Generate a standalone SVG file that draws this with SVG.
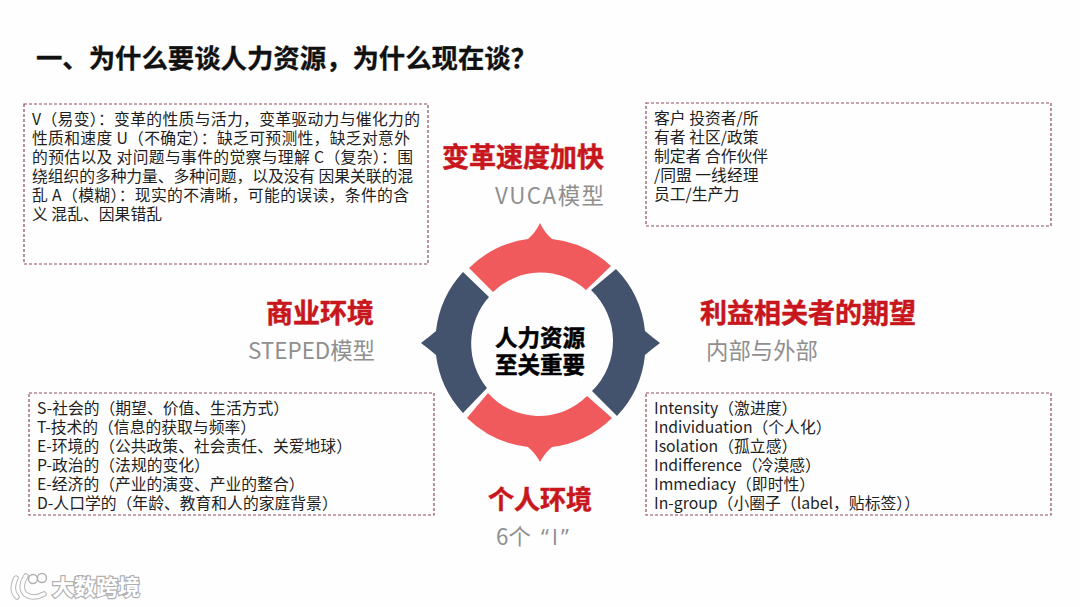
<svg xmlns="http://www.w3.org/2000/svg" width="1080" height="607" viewBox="0 0 1080 607">
<style>
text{font-family:"Noto Sans CJK SC","Noto Sans",sans-serif}
.box{fill:none;stroke:#8c4a58;stroke-width:1.2;stroke-dasharray:3 2}
.body{font-size:15.8px;fill:#1e1e1e}
.head{font-size:27px;font-weight:700;fill:#c8161d;stroke:#c8161d;stroke-width:.5}
.sub{font-size:22.4px;fill:#8f8f8f}
.red{fill:#f05a5c}.blue{fill:#43536e}
.ctr{font-size:22.5px;font-weight:700;fill:#000;stroke:#000;stroke-width:.5;text-anchor:middle}
.wm{font-size:22px;font-weight:700;fill:#fff;stroke:#b0b0b0;stroke-width:2.4;paint-order:stroke}
</style>
<rect width="1080" height="607" fill="#fefefe"/>
<text id="title" x="36" y="68" font-size="26.4" font-weight="700" fill="#111" stroke="#111" stroke-width=".3" textLength="501">一、为什么要谈人力资源，为什么现在谈？</text>
<g id="box-vuca">
<rect class="box" x="24" y="104" width="404" height="160"/>
<text class="body" x="32" y="125" textLength="388">V（易变）：变革的性质与活力，变革驱动力与催化力的</text>
<text class="body" x="32" y="144" textLength="378">性质和速度 U（不确定）：缺乏可预测性，缺乏对意外</text>
<text class="body" x="32" y="163" textLength="381">的预估以及 对问题与事件的觉察与理解 C（复杂）：围</text>
<text class="body" x="32" y="182" textLength="381">绕组织的多种力量、多种问题，以及没有 因果关联的混</text>
<text class="body" x="32" y="201" textLength="377">乱 A（模糊）：现实的不清晰，可能的误读，条件的含</text>
<text class="body" x="32" y="220" textLength="130">义 混乱、因果错乱</text>
</g>
<g id="box-stakeholders">
<rect class="box" x="646" y="103" width="405" height="123"/>
<text class="body" x="654" y="124">客户 投资者/所</text>
<text class="body" x="654" y="143">有者 社区/政策</text>
<text class="body" x="654" y="162">制定者 合作伙伴</text>
<text class="body" x="654" y="181">/同盟 一线经理</text>
<text class="body" x="654" y="200">员工/生产力</text>
</g>
<g id="box-steped">
<rect class="box" x="29" y="393" width="405" height="122"/>
<text class="body" x="37" y="414">S-社会的（期望、价值、生活方式）</text>
<text class="body" x="37" y="433">T-技术的（信息的获取与频率）</text>
<text class="body" x="37" y="452">E-环境的（公共政策、社会责任、关爱地球）</text>
<text class="body" x="37" y="471">P-政治的（法规的变化）</text>
<text class="body" x="37" y="490">E-经济的（产业的演变、产业的整合）</text>
<text class="body" x="37" y="509">D-人口学的（年龄、教育和人的家庭背景）</text>
</g>
<g id="box-six-i">
<rect class="box" x="646" y="393" width="405" height="122"/>
<text class="body" x="654" y="414">Intensity（激进度）</text>
<text class="body" x="654" y="433">Individuation（个人化）</text>
<text class="body" x="654" y="452">Isolation（孤立感）</text>
<text class="body" x="654" y="471">Indifference（冷漠感）</text>
<text class="body" x="654" y="490">Immediacy（即时性）</text>
<text class="body" x="654" y="509" textLength="266">In-group（小圈子（label，贴标签））</text>
</g>
<g id="label-top">
<text class="head" x="442" y="167">变革速度加快</text>
<text class="sub" x="495" y="204" textLength="109">VUCA模型</text>
</g>
<g id="label-right">
<text class="head" x="700" y="323">利益相关者的期望</text>
<text class="sub" x="706" y="359">内部与外部</text>
</g>
<g id="label-left">
<text class="head" x="266" y="323">商业环境</text>
<text class="sub" x="248" y="359">STEPED模型</text>
</g>
<g id="label-bottom">
<text class="head" x="488" y="509" style="font-size:26px">个人环境</text>
<text class="sub" x="496" y="545">6个 <tspan x="541" style="font-family:'Open Sans',sans-serif" letter-spacing="3">“I”</tspan></text>
</g>
<g id="ring">
<path class="red" d="M469 268 A104 104 0 0 1 528 239 Q536 232 540 223 Q544 232 552 239 A104 104 0 0 1 611 266 L586 290 A68 68 0 0 0 493 292 Z"/>
<path class="blue" d="M616 269 A104 104 0 0 1 645 331 Q652 337 660 343 Q652 349 645 355 A104 104 0 0 1 617 416 L592 391 A70 70 0 0 0 591 290 Z"/>
<path class="red" d="M467 418 A104 104 0 0 0 528 447 Q536 454 540 462 Q544 454 552 447 A104 104 0 0 0 612 418 L587 396 A68 68 0 0 1 488 393 Z"/>
<path class="blue" d="M463 272 A104 104 0 0 0 436 331 Q429 337 421 343 Q429 349 436 355 A104 104 0 0 0 463 413 L487 388 A70 70 0 0 1 489 297 Z"/>
</g>
<g id="center">
<text class="ctr" x="540" y="346">人力资源</text>
<text class="ctr" x="540" y="373">至关重要</text>
</g>
<g id="watermark">
<text class="wm" x="52" y="595">大数跨境</text>
<path d="M16 578 Q10 590 17 597 M26 576 Q19 587 25 594 Q33 600 44 594" fill="none" stroke="#b8b8b8" stroke-width="5.5" stroke-linecap="round"/>
<path d="M16 578 Q10 590 17 597 M26 576 Q19 587 25 594 Q33 600 44 594" fill="none" stroke="#fff" stroke-width="3.5" stroke-linecap="round"/>
<circle cx="33" cy="579" r="4.5" fill="#fff" stroke="#b0b0b0" stroke-width="1.4"/>
<circle cx="42" cy="578" r="4.5" fill="#fff" stroke="#b0b0b0" stroke-width="1.4"/>
</g>
</svg>
